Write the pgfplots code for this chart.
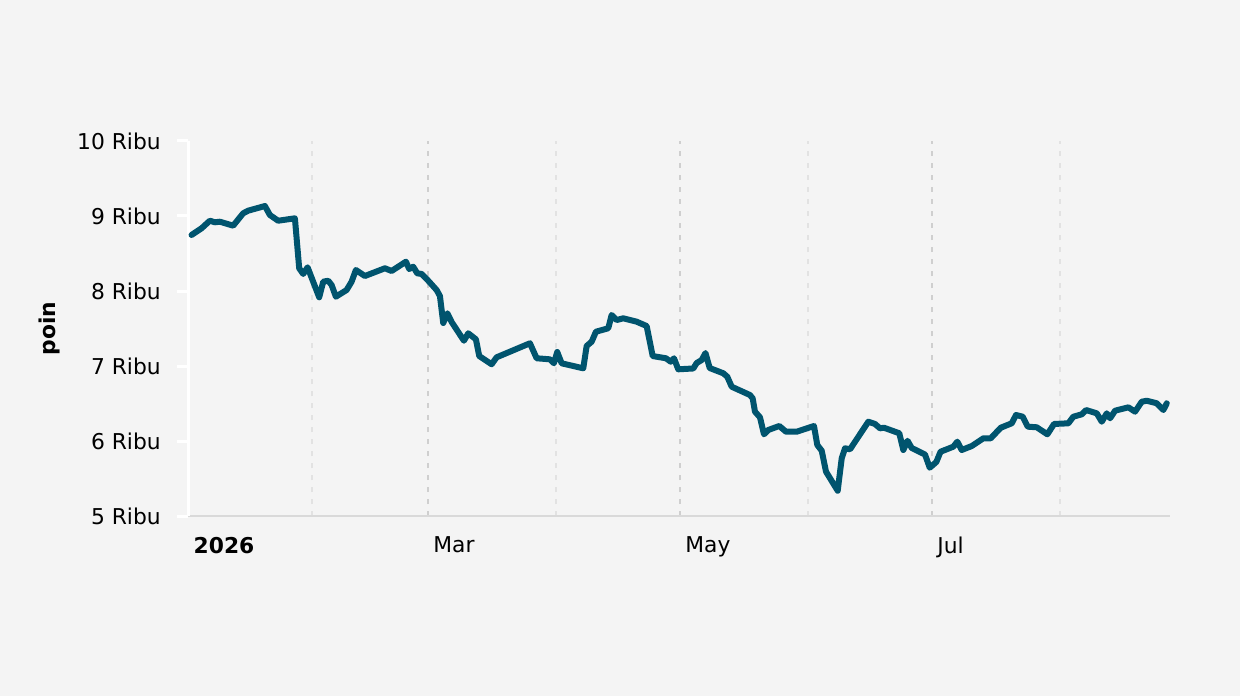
\documentclass[border=0pt]{standalone}
\usepackage{fontspec}
\setmainfont{DejaVu Sans}
\usepackage{pgfplots}
\usepackage{pgfplotstable}
\pgfplotsset{compat=1.18}
\definecolor{bg}{HTML}{F4F4F4}
\definecolor{linec}{HTML}{00546E}
\definecolor{majgrid}{HTML}{CFCFCF}
\definecolor{mingrid}{HTML}{E2E2E2}
\definecolor{xaxisc}{HTML}{D9D9D9}
\pgfplotstableread{
d v
1.79 8747
4.21 8836
6.22 8937
7.43 8916
8.64 8924
11.86 8871
14.28 9036
15.49 9071
19.54 9133
20.75 9013
22.75 8937
26.80 8969
27.84 8303
28.81 8227
29.87 8316
32.68 7916
33.65 8124
34.86 8137
35.68 8080
36.72 7924
39.31 8013
40.52 8124
41.56 8280
43.74 8200
48.58 8303
50.21 8267
53.67 8391
54.47 8293
55.43 8324
56.40 8236
57.47 8227
59.07 8137
61.10 8013
61.90 7933
62.70 7573
63.71 7703
64.73 7587
67.71 7337
68.75 7436
70.61 7356
71.41 7133
74.41 7023
75.62 7116
83.68 7303
85.31 7103
88.53 7089
89.49 7036
90.29 7187
91.36 7036
96.59 6969
97.41 7267
98.62 7324
99.66 7457
102.64 7503
103.46 7680
104.67 7613
106.27 7636
109.51 7591
111.93 7533
113.39 7133
116.61 7103
117.75 7057
118.54 7103
119.58 6956
123.22 6967
124.04 7040
125.25 7080
126.17 7173
127.19 6973
130.48 6903
131.45 6857
132.51 6724
136.94 6613
137.59 6569
138.15 6391
139.36 6316
140.33 6089
141.37 6147
144.03 6200
145.66 6124
148.25 6124
152.43 6200
153.23 5947
154.30 5871
155.34 5591
158.17 5337
159.14 5769
159.94 5903
161.15 5889
165.58 6257
167.20 6227
168.41 6169
169.38 6177
173.08 6103
174.05 5880
175.07 6003
176.08 5907
179.30 5820
180.44 5644
182.04 5720
183.06 5857
186.15 5924
187.12 5991
188.19 5880
190.61 5933
193.42 6036
195.21 6036
197.63 6177
200.29 6236
201.33 6347
202.95 6324
204.16 6191
206.34 6183
208.91 6089
210.53 6227
213.99 6236
215.20 6324
217.24 6356
218.28 6413
220.87 6369
222.08 6257
223.29 6369
224.09 6303
225.30 6404
228.52 6449
230.14 6391
231.76 6524
232.97 6537
235.39 6503
236.99 6413
237.81 6503
}\pricedata
\begin{document}
\begin{tikzpicture}[x=1bp,y=1bp]
\fill[bg] (0,0) rectangle (620,348);
\begin{axis}[
  at={(94.15bp,90bp)}, anchor=south west,
  scale only axis, width=490.85bp, height=187.5bp,
  xmin=1, xmax=238.6, ymin=5000, ymax=10000,
  scaled y ticks=false,
  axis lines=left,
  axis line style={-},
  x axis line style={draw=xaxisc, line width=1bp},
  y axis line style={draw=white, line width=1.5bp},
  xtick={1,59,120,181},
  xticklabels={\textbf{2026},Mar,May,Jul},
  minor xtick={31,90,151,212},
  xtick style={draw=none},
  minor tick length=0pt,
  xmajorgrids, xminorgrids,
  major grid style={draw=majgrid, line width=1bp, dash pattern=on 2.7bp off 3.3bp},
  minor grid style={draw=mingrid, line width=1bp, dash pattern=on 2.7bp off 3.3bp},
  ytick={5000,6000,7000,8000,9000,10000},
  yticklabels={5 Ribu,6 Ribu,7 Ribu,8 Ribu,9 Ribu,10 Ribu},
  ytick style={draw=white, line width=1.5bp},
  ytick align=outside,
  major tick length=5.5bp,
  tick label style={font=\fontsize{10.9bp}{13bp}\selectfont, text=black},
  xticklabel style={anchor=north west, inner sep=0pt, xshift=2.5bp, yshift=-7.5bp},
  yticklabel style={anchor=east, inner sep=0pt, xshift=-8.1bp},
  /pgf/number format/assume math mode=true,
  ylabel={\textbf{poin}},
  ylabel style={at={(axis description cs:-0.1419,0.5)}, anchor=center, font=\fontsize{10.9bp}{13bp}\selectfont},
]
\addplot[draw=linec, line width=3bp, line join=round, line cap=round] table[x=d, y=v] {\pricedata};
\end{axis}
\end{tikzpicture}
\end{document}
